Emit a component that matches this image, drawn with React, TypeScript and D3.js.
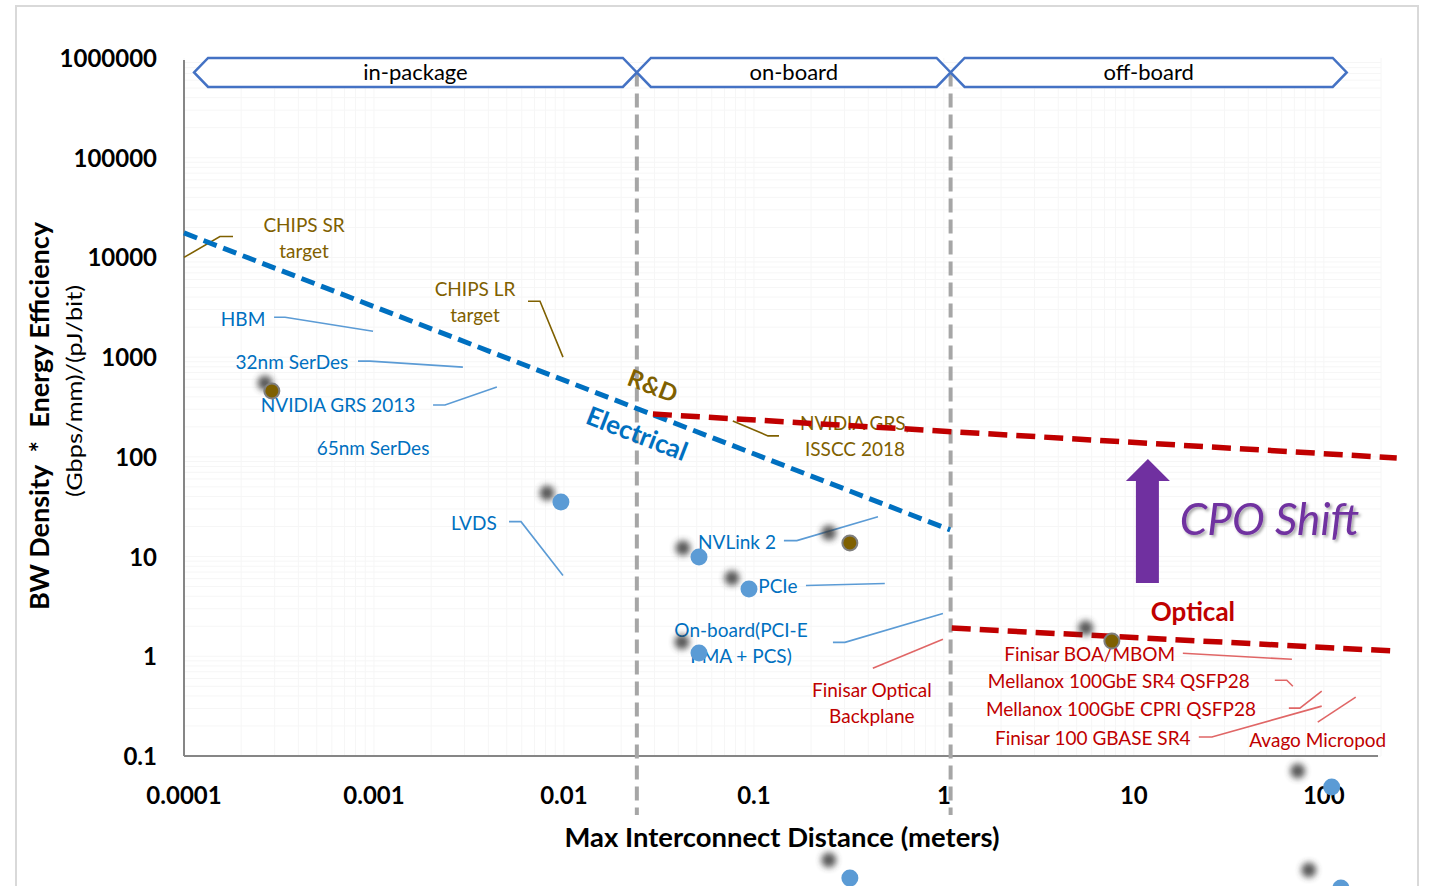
import React from "react";
import * as d3 from "d3";

// ---------- data ----------
const xTickValues = [0.0001, 0.001, 0.01, 0.1, 1, 10, 100];
const xTickLabels = ["0.0001", "0.001", "0.01", "0.1", "1", "10", "100"];
const yTickValues = [0.1, 1, 10, 100, 1000, 10000, 100000, 1000000];
const yTickLabels = ["0.1", "1", "10", "100", "1000", "10000", "100000", "1000000"];

// blue (electrical / commercial) points: [distance m, metric]
const bluePoints: [number, number][] = [
  [0.00964, 35.3],
  [0.0514, 9.9],
  [0.0942, 4.73],
  [0.0514, 1.08],
  [110, 0.0489],
  [0.32, 0.00597],
  [123, 0.00474],
];
// brown (R&D) points
const brownPoints: [number, number][] = [
  [0.00029, 458],
  [0.32, 13.7],
  [7.66, 1.42],
];
// gray blurred shadow points
const shadowPoints: [number, number][] = [
  [0.000267, 551],
  [0.00815, 43.4],
  [0.0423, 12.2],
  [0.0766, 6.1],
  [0.0418, 1.39],
  [0.248, 17.3],
  [5.58, 1.92],
  [72.9, 0.0708],
  [0.248, 0.00906],
  [83.4, 0.0072],
];

// trend lines
const electricalTrend: [number, number][] = [[0.0001, 17600], [1.08, 18.5]];
const rdTrend: [number, number][] = [[0.0294, 269], [242, 97.5]];
const opticalTrend: [number, number][] = [[1.1, 1.92], [231, 1.13]];

// distance bands
const bandNames = ["in-package", "on-board", "off-board"];
const bandEdges = [0.000113, 0.0242, 1.085, 132];
const bandTop = 1000000;
const bandBottom = 513000;

// annotations: positions in log10 units [log10(distance), log10(metric)]
type Ann = { lines: string[]; kind: "el" | "rd" | "op"; at: [number, number]; leader: [number, number][] };
const annotations: Ann[] = [
  { lines: ["CHIPS SR", "target"], kind: "rd", at: [-3.368, 4.26], leader: [[-4.0, 4.0], [-3.811, 4.21], [-3.742, 4.21]] },
  { lines: ["CHIPS LR", "target"], kind: "rd", at: [-2.468, 3.61], leader: [[-2.189, 3.56], [-2.126, 3.56], [-2.005, 3.0]] },
  { lines: ["NVIDIA GRS,", "ISSCC 2018"], kind: "rd", at: [-0.468, 2.27], leader: [[-1.111, 2.36], [-0.926, 2.21], [-0.868, 2.21]] },
  { lines: ["HBM"], kind: "el", at: [-3.689, 3.31], leader: [[-3.526, 3.4], [-3.468, 3.4], [-3.005, 3.26]] },
  { lines: ["32nm SerDes"], kind: "el", at: [-3.432, 2.88], leader: [[-3.084, 2.96], [-3.021, 2.96], [-2.532, 2.9]] },
  { lines: ["NVIDIA GRS 2013"], kind: "el", at: [-3.189, 2.45], leader: [[-2.689, 2.52], [-2.626, 2.52], [-2.353, 2.7]] },
  { lines: ["65nm SerDes"], kind: "el", at: [-3.005, 2.02], leader: [] },
  { lines: ["LVDS"], kind: "el", at: [-2.474, 1.27], leader: [[-2.289, 1.35], [-2.226, 1.35], [-2.005, 0.81]] },
  { lines: ["NVLink 2"], kind: "el", at: [-1.089, 1.08], leader: [[-0.842, 1.16], [-0.774, 1.16], [-0.347, 1.4]] },
  { lines: ["PCIe"], kind: "el", at: [-0.874, 0.63], leader: [[-0.726, 0.71], [-0.311, 0.73]] },
  { lines: ["On-board(PCI-E", "PMA + PCS)"], kind: "el", at: [-1.068, 0.19], leader: [[-0.584, 0.14], [-0.521, 0.14], [-0.005, 0.43]] },
  { lines: ["Finisar Optical", "Backplane"], kind: "op", at: [-0.379, -0.41], leader: [[-0.374, -0.12], [-0.005, 0.17]] },
  { lines: ["Finisar BOA/MBOM"], kind: "op", at: [0.768, -0.05], leader: [[1.258, 0.03], [1.832, -0.03]] },
  { lines: ["Mellanox 100GbE SR4 QSFP28"], kind: "op", at: [0.921, -0.32], leader: [[1.742, -0.24], [1.805, -0.24], [1.837, -0.3]] },
  { lines: ["Mellanox 100GbE CPRI QSFP28"], kind: "op", at: [0.932, -0.6], leader: [[1.816, -0.52], [1.874, -0.52], [1.989, -0.35]] },
  { lines: ["Finisar 100 GBASE SR4"], kind: "op", at: [0.784, -0.89], leader: [[1.342, -0.81], [1.411, -0.81], [1.989, -0.5]] },
  { lines: ["Avago Micropod"], kind: "op", at: [1.968, -0.91], leader: [[1.968, -0.66], [2.168, -0.41]] },
];

// big labels (log10 positions)
const electricalLabel = { text: "Electrical", at: [-1.621, 2.21] as [number, number] };
const rdLabel = { text: "R&D", at: [-1.537, 2.69] as [number, number] };
const opticalLabel = { text: "Optical", at: [1.311, 0.35] as [number, number] };
const cpoLabel = { text: "CPO Shift", at: [1.242, 1.22] as [number, number] };
const cpoArrow = { xLog: 1.074, fromLog: 0.735, toLog: 1.979 };

const xTitle = "Max Interconnect Distance (meters)";
const yTitle1 = "BW Density  *  Energy Efficiency";
const yTitle2 = "(Gbps/mm)/(pJ/bit)";

// ---------- styles ----------
const FONT = "Lato, 'Open Sans', sans-serif";
const textColor = { el: "#0070c0", rd: "#7f6000", op: "#c00000" };
const leaderColor = { el: "#5b9bd5", rd: "#7f6000", op: "#e06666" };

export default function App() {
  const W = 1429, H = 886;
  const x = d3.scaleLog().domain([0.0001, 200]).range([184, 1381]);
  const y = d3.scaleLog().domain([0.1, 1000000]).range([756, 58]);
  const px = (l: number) => x(Math.pow(10, l));
  const py = (l: number) => y(Math.pow(10, l));
  const line = d3.line<[number, number]>().x((d) => x(d[0])).y((d) => y(d[1]));
  const [xMin, xMax] = x.range();
  const [yBot, yTop] = y.range();

  // minor grid
  const xMinor: number[] = [];
  for (let e = -4; e <= 2; e++) for (let k = 1; k <= 9; k++) { const v = k * Math.pow(10, e); if (v <= 200) xMinor.push(v); }
  const yMinor: number[] = [];
  for (let e = -1; e <= 5; e++) for (let k = 1; k <= 9; k++) yMinor.push(k * Math.pow(10, e));

  const bandMid = y(Math.sqrt(bandTop * bandBottom));
  const notch = 14;

  const angle = (Math.atan2(y(electricalTrend[1][1]) - y(electricalTrend[0][1]), x(electricalTrend[1][0]) - x(electricalTrend[0][0])) * 180) / Math.PI;

  const ax = px(cpoArrow.xLog);
  const aTop = py(cpoArrow.toLog);
  const aBot = py(cpoArrow.fromLog);

  return (
    <svg width={W} height={H} style={{ position: "absolute", left: 0, top: 0 }} fontFamily={FONT}>
      <defs>
        <filter id="blur" x="-100%" y="-100%" width="300%" height="300%">
          <feGaussianBlur stdDeviation="3.2" />
        </filter>
        <filter id="tshadow" x="-10%" y="-30%" width="130%" height="160%">
          <feDropShadow dx="2" dy="2" stdDeviation="1.5" floodColor="#000" floodOpacity="0.35" />
        </filter>
      </defs>
      <rect x={16} y={6} width={1402} height={920} fill="#fff" stroke="#d9d9d9" strokeWidth={2} />

      {/* grid */}
      {xMinor.map((v, i) => (
        <line key={"gx" + i} x1={x(v)} x2={x(v)} y1={yTop} y2={yBot} stroke="#f6f6f6" strokeWidth={1} />
      ))}
      {yMinor.map((v, i) => (
        <line key={"gy" + i} x1={xMin} x2={xMax} y1={y(v)} y2={y(v)} stroke="#f6f6f6" strokeWidth={1} />
      ))}

      {/* axes */}
      <line x1={xMin} x2={xMin} y1={yTop + 2} y2={yBot} stroke="#868686" strokeWidth={2} />
      <line x1={xMin} x2={1378} y1={yBot} y2={yBot} stroke="#868686" strokeWidth={2} />

      {yTickValues.map((v, i) => (
        <text key={"yt" + i} x={157} y={y(v) + 9} textAnchor="end" fontSize={24} fontWeight="bold" fill="#000">
          {yTickLabels[i]}
        </text>
      ))}
      {xTickValues.map((v, i) => (
        <text key={"xt" + i} x={x(v)} y={804} textAnchor="middle" fontSize={24} fontWeight="bold" fill="#000">
          {xTickLabels[i]}
        </text>
      ))}

      {/* titles */}
      <text x={782} y={847} textAnchor="middle" fontSize={26} fontWeight="bold" fill="#000" textLength={435} lengthAdjust="spacingAndGlyphs">{xTitle}</text>
      <text transform="translate(49,416) rotate(-90)" textAnchor="middle" fontSize={26} fontWeight="bold" fill="#000" style={{ whiteSpace: "pre" }} textLength={388} lengthAdjust="spacingAndGlyphs">{yTitle1}</text>
      <text transform="translate(82,391) rotate(-90)" textAnchor="middle" fontSize={22} fill="#000" textLength={212} lengthAdjust="spacingAndGlyphs">{yTitle2}</text>

      {/* band separators */}
      {bandEdges.slice(1, -1).map((v, i) => (
        <line key={"sep" + i} x1={x(v)} x2={x(v)} y1={bandMid} y2={815} stroke="#a6a6a6" strokeWidth={4} strokeDasharray="14 7" />
      ))}

      {/* band arrows */}
      {bandNames.map((n, i) => {
        const x0 = x(bandEdges[i]);
        const x1 = x(bandEdges[i + 1]);
        const t = y(bandTop), b = y(bandBottom);
        const d = `M${x0},${bandMid}L${x0 + notch},${t}L${x1 - notch},${t}L${x1},${bandMid}L${x1 - notch},${b}L${x0 + notch},${b}Z`;
        return (
          <g key={"band" + i}>
            <path d={d} fill="#fff" stroke="#4472c4" strokeWidth={2.5} />
            <text x={(x0 + x1) / 2} y={bandMid + 8} textAnchor="middle" fontSize={22} fill="#000">{n}</text>
          </g>
        );
      })}

      {/* annotations */}
      {annotations.map((a, i) => (
        <g key={"ann" + i}>
          {a.leader.length > 0 && (
            <polyline
              points={a.leader.map((p) => `${px(p[0])},${py(p[1])}`).join(" ")}
              fill="none"
              stroke={leaderColor[a.kind]}
              strokeWidth={1.6}
            />
          )}
          {a.lines.map((l, j) => (
            <text key={j} x={px(a.at[0])} y={py(a.at[1]) + j * 26} textAnchor="middle" fontSize={19} fill={textColor[a.kind]}>
              {l}
            </text>
          ))}
        </g>
      ))}

      {/* trend lines */}
      <path d={line(electricalTrend) || ""} fill="none" stroke="#0070c0" strokeWidth={5} strokeDasharray="14 7" />
      <path d={line(rdTrend) || ""} fill="none" stroke="#c00000" strokeWidth={5.5} strokeDasharray="19 9" />
      <path d={line(opticalTrend) || ""} fill="none" stroke="#c00000" strokeWidth={5.5} strokeDasharray="19 9" />

      {/* big labels */}
      <text transform={`translate(${px(electricalLabel.at[0])},${py(electricalLabel.at[1])}) rotate(${angle})`} textAnchor="middle" dominantBaseline="middle" fontSize={26} fontWeight="bold" fill="#0070c0">
        {electricalLabel.text}
      </text>
      <text transform={`translate(${px(rdLabel.at[0])},${py(rdLabel.at[1])}) rotate(${angle})`} textAnchor="middle" dominantBaseline="middle" fontSize={24} fontWeight="bold" fill="#7f6000">
        {rdLabel.text}
      </text>
      <text x={px(opticalLabel.at[0])} y={py(opticalLabel.at[1])} textAnchor="middle" fontSize={26} fontWeight="bold" fill="#c00000">
        {opticalLabel.text}
      </text>
      <text x={px(cpoLabel.at[0])} y={py(cpoLabel.at[1])} fontSize={44} fontStyle="italic" fill="#7030a0" filter="url(#tshadow)">
        {cpoLabel.text}
      </text>
      <path
        d={`M${ax},${aTop}L${ax + 22},${aTop + 22}L${ax + 11},${aTop + 22}L${ax + 11},${aBot}L${ax - 12},${aBot}L${ax - 12},${aTop + 22}L${ax - 22},${aTop + 22}Z`}
        fill="#7030a0"
      />

      {/* points */}
      {shadowPoints.map((p, i) => (
        <circle key={"s" + i} cx={x(p[0])} cy={y(p[1])} r={7.5} fill="#3a3a3a" opacity={0.85} filter="url(#blur)" />
      ))}
      {bluePoints.map((p, i) => (
        <circle key={"b" + i} cx={x(p[0])} cy={y(p[1])} r={8.5} fill="#5b9bd5" />
      ))}
      {brownPoints.map((p, i) => (
        <circle key={"r" + i} cx={x(p[0])} cy={y(p[1])} r={7.5} fill="#7f6000" stroke="#7f7f7f" strokeWidth={2} />
      ))}
    </svg>
  );
}
